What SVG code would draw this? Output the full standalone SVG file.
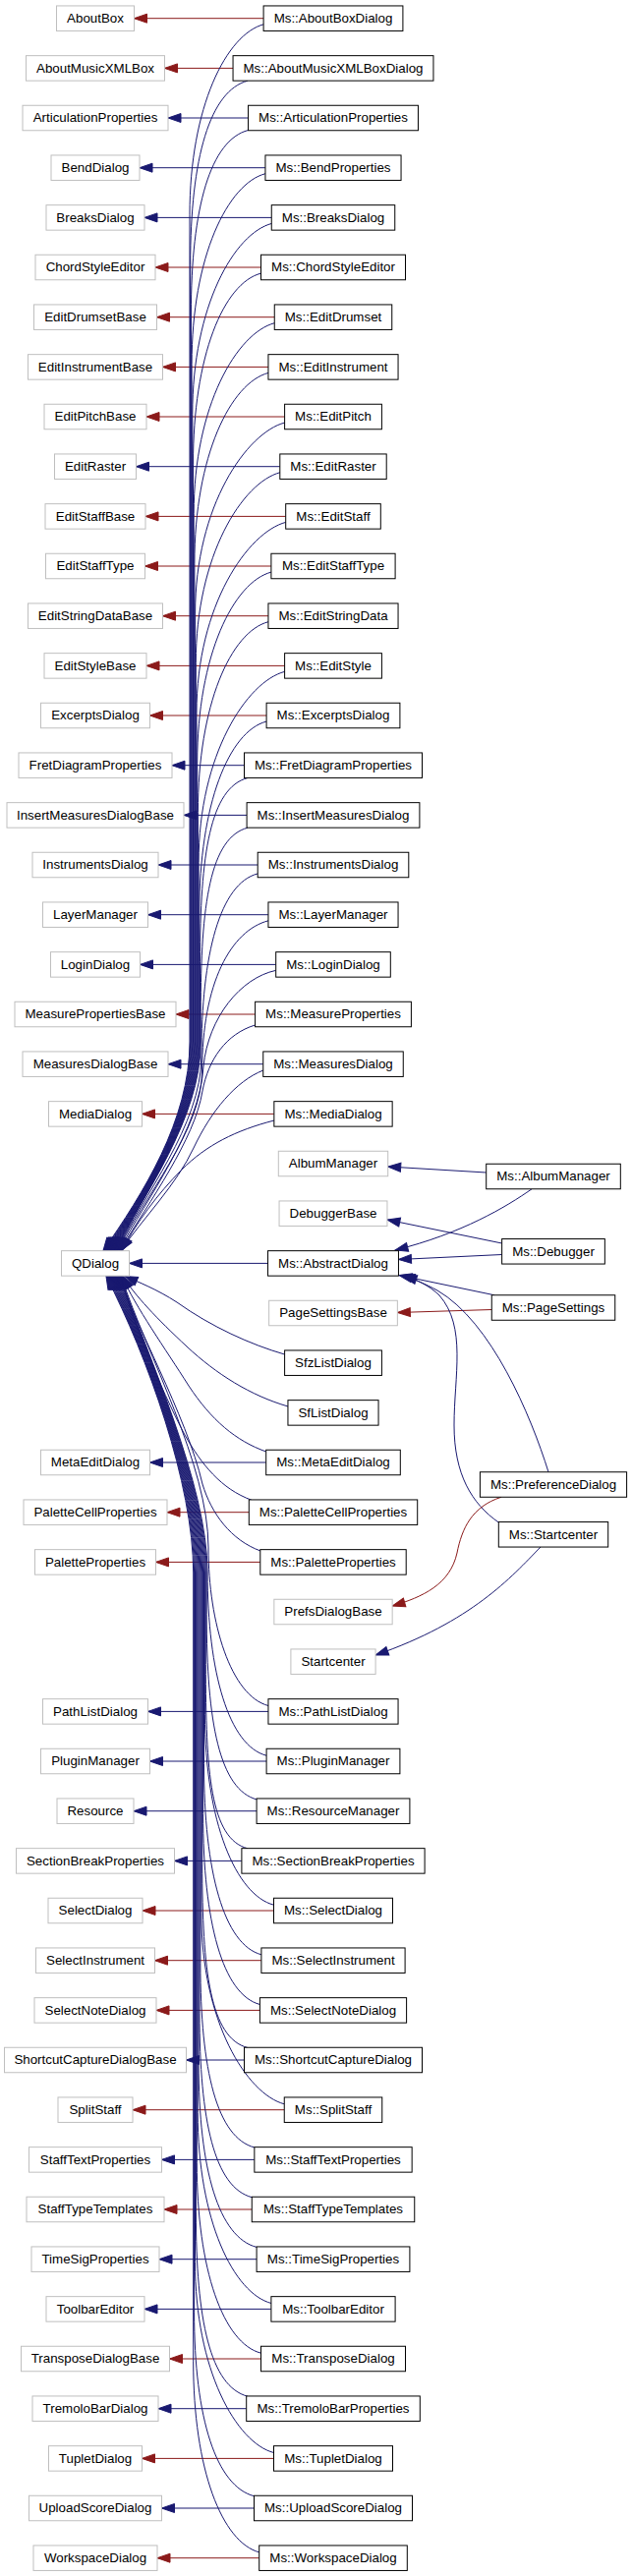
<svg xmlns="http://www.w3.org/2000/svg" width="643" height="2621" viewBox="0 0 643 2621">
<style>
.e{fill:none;stroke-width:1}
.b{stroke:#191970;marker-end:url(#ab)}
.r{stroke:#8b1a1a;marker-end:url(#ar)}
.nb rect{fill:#fff;stroke:#bfbfbf;stroke-width:1}
.nm rect{fill:#fff;stroke:#000;stroke-width:1}
text{font-family:"Liberation Sans",Arial,sans-serif;font-size:13.33px;text-anchor:middle;fill:#000}
</style>
<defs>
<marker id="ab" markerWidth="14" markerHeight="10" refX="13" refY="4.5" orient="auto" markerUnits="userSpaceOnUse" overflow="visible"><path d="M0,0 L13,4.5 L0,9 z" fill="#191970" stroke="#191970" stroke-width="1"/></marker>
<marker id="ar" markerWidth="14" markerHeight="10" refX="13" refY="4.5" orient="auto" markerUnits="userSpaceOnUse" overflow="visible"><path d="M0,0 L13,4.5 L0,9 z" fill="#8b1a1a" stroke="#8b1a1a" stroke-width="1"/></marker>
</defs>
<rect x="0" y="0" width="643" height="2621" fill="#fff"/>
<g id="connectors">
<path class="e r" d="M268.1,18.7 L136.5,18.7"/>
<path class="e r" d="M237.05,69.4 L167.5,69.4"/>
<path class="e b" d="M252.55,120 L171,120"/>
<path class="e b" d="M269.95,170.7 L142,170.7"/>
<path class="e b" d="M276.25,221.4 L147,221.4"/>
<path class="e r" d="M265.5,272 L158,272"/>
<path class="e r" d="M279.25,322.7 L159.5,322.7"/>
<path class="e r" d="M272.95,373.4 L165.5,373.4"/>
<path class="e r" d="M289.6,424 L149,424"/>
<path class="e b" d="M284.8,474.7 L138.5,474.7"/>
<path class="e r" d="M290.7,525.4 L148,525.4"/>
<path class="e r" d="M275.9,576 L147.5,576"/>
<path class="e r" d="M272.95,626.7 L165.5,626.7"/>
<path class="e r" d="M289.6,677.4 L149,677.4"/>
<path class="e r" d="M271.1,728 L152.5,728"/>
<path class="e b" d="M248.5,778.7 L175,778.7"/>
<path class="e b" d="M251.1,829.4 L187,829.4"/>
<path class="e b" d="M262.2,880 L161,880"/>
<path class="e b" d="M272.95,930.7 L150.5,930.7"/>
<path class="e b" d="M280.7,981.4 L142.5,981.4"/>
<path class="e r" d="M259.6,1032 L179,1032"/>
<path class="e b" d="M267.75,1082.7 L171,1082.7"/>
<path class="e r" d="M278.85,1133.4 L144.5,1133.4"/>
<path class="e b" d="M272.55,1285.4 L131.5,1285.4"/>
<path class="e b" d="M270.7,1488 L152.5,1488"/>
<path class="e r" d="M253.3,1538.7 L170,1538.7"/>
<path class="e r" d="M264.8,1589.4 L158.5,1589.4"/>
<path class="e b" d="M272.95,1741.4 L150.5,1741.4"/>
<path class="e b" d="M271.1,1792 L152.5,1792"/>
<path class="e b" d="M261.1,1842.7 L136,1842.7"/>
<path class="e b" d="M245.9,1893.4 L177.5,1893.4"/>
<path class="e r" d="M278.5,1944 L145,1944"/>
<path class="e r" d="M265.9,1994.7 L157.5,1994.7"/>
<path class="e r" d="M264.4,2045.4 L159,2045.4"/>
<path class="e b" d="M248.5,2096 L189.5,2096"/>
<path class="e r" d="M289.25,2146.7 L135,2146.7"/>
<path class="e b" d="M258.85,2197.4 L164.5,2197.4"/>
<path class="e r" d="M256.25,2248 L167,2248"/>
<path class="e b" d="M261.1,2298.7 L162,2298.7"/>
<path class="e b" d="M275.9,2349.4 L147,2349.4"/>
<path class="e r" d="M265.5,2400 L172.5,2400"/>
<path class="e b" d="M250.7,2450.7 L161,2450.7"/>
<path class="e r" d="M278.5,2501.4 L144.5,2501.4"/>
<path class="e b" d="M258.5,2552 L164.5,2552"/>
<path class="e r" d="M263.7,2602.7 L160,2602.7"/>
<path class="e b" d="M268.5,24.7 C230.5,34.7 193,108.7 193,218.7 L193,1060 C193,1140 145,1215 105,1272.5"/>
<path class="e b" d="M252,82.2 C214,92.2 193.7,159.4 193.7,269.4 L193.7,1060 C193.7,1140 145,1215 106,1272.5"/>
<path class="e b" d="M252.5,132.5 C214.5,142.5 194.4,210 194.4,320 L194.4,1060 C194.4,1140 145,1215 107,1272.5"/>
<path class="e b" d="M270,176.7 C232,186.7 195.1,260.7 195.1,370.7 L195.1,1060 C195.1,1140 145,1215 107.8,1272.5"/>
<path class="e b" d="M276.5,227.4 C238.5,237.4 195.8,311.4 195.8,421.4 L195.8,1060 C195.8,1140 145,1215 108.6,1272.5"/>
<path class="e b" d="M265.5,278.1 C227.5,288.1 196.5,362.1 196.5,472.1 L196.5,1060 C196.5,1140 145,1215 109.4,1272.5"/>
<path class="e b" d="M279.3,328.7 C241.3,338.7 197.2,412.7 197.2,522.7 L197.2,1060 C197.2,1140 145,1215 110.2,1272.5"/>
<path class="e b" d="M273,379.4 C235,389.4 197.9,463.4 197.9,573.4 L197.9,1060 C197.9,1140 145,1215 111,1272.5"/>
<path class="e b" d="M289.5,430.1 C251.5,440.1 198.6,514.1 198.6,624.1 L198.6,1060 C198.6,1140 145,1215 111.8,1272.5"/>
<path class="e b" d="M285,480.7 C247,490.7 199.3,564.7 199.3,674.7 L199.3,1060 C199.3,1140 145,1215 112.6,1272.5"/>
<path class="e b" d="M290.7,531.4 C252.7,541.4 200,615.4 200,725.4 L200,1060 C200,1140 145,1215 113.4,1272.5"/>
<path class="e b" d="M276,582.1 C238,592.1 200.7,666.1 200.7,776.1 L200.7,1060 C200.7,1140 145,1215 114.2,1272.5"/>
<path class="e b" d="M273,632.7 C235,642.7 201.4,716.7 201.4,826.7 L201.4,1060 C201.4,1140 145,1215 115,1272.5"/>
<path class="e b" d="M289.5,683.4 C251.5,693.4 202.1,767.4 202.1,877.4 L202.1,1060 C202.1,1140 145,1215 115.8,1272.5"/>
<path class="e b" d="M271,734.1 C233,744.1 202.8,818.1 202.8,928.1 L202.8,1060 C202.8,1140 145,1215 116.6,1272.5"/>
<path class="e b" d="M252,791.5 C214,801.5 203.5,868.8 203.5,978.8 L203.5,1060 C203.5,1140 145,1215 117.4,1272.5"/>
<path class="e b" d="M252,842.2 C214,852.2 204.2,919.4 204.2,1029.4 L204.2,1060 C204.2,1140 145,1215 118.2,1272.5"/>
<path class="e b" d="M262,889 C224,899 204.9,970.1 204.9,1075 C204.9,1145 145,1217 119,1272.5"/>
<path class="e b" d="M273,936.8 C235,946.8 205.6,1000 205.6,1090 C205.6,1150 145,1220 119.8,1272.5"/>
<path class="e b" d="M280.5,987.4 C245,995 212,1035 207,1085 C203,1150 150,1218 121,1272.5"/>
<path class="e b" d="M259.5,1043 C230,1052 212,1078 206,1110 C198,1160 152,1222 122,1272.5"/>
<path class="e b" d="M267.8,1089 C240,1100 215,1130 197,1168 C180,1205 145,1240 123,1272.5"/>
<path class="e b" d="M279,1140 C240,1150 210,1165 185,1190 C160,1215 138,1245 124,1272.5"/>
<path class="e b" d="M289.5,1378 C255,1368 215,1350 180,1325 C160,1312 140,1304 127,1298.5"/>
<path class="e b" d="M293,1431 C255,1420 220,1398 190,1370 C160,1342 137,1318 125,1298.5"/>
<path class="e b" d="M270.7,1477 C240,1466 215,1445 192,1410 C168,1372 138,1330 124,1298.5"/>
<path class="e b" d="M256,1526.3 C225,1515 205,1490 188,1460 C162,1410 133,1340 123,1298.5"/>
<path class="e b" d="M265,1578 C235,1567 215,1540 206,1510 C190,1440 133,1340 122,1298.5"/>
<path class="e b" d="M273,1735.5 C235,1725.5 212,1651.5 212,1575 C212,1490 150,1380 123.3,1298.5"/>
<path class="e b" d="M271,1786.2 C233,1776.2 211.1,1702.2 211.1,1600 C211.1,1510 150,1380 122.4,1298.5"/>
<path class="e b" d="M261.5,1831 C223.5,1821 210.2,1752.8 210.2,1642.8 L210.2,1600 C210.2,1510 150,1380 121.5,1298.5"/>
<path class="e b" d="M252,1880.8 C214,1870.8 209.3,1803.5 209.3,1693.5 L209.3,1600 C209.3,1510 150,1380 120.6,1298.5"/>
<path class="e b" d="M278.5,1938.2 C240.5,1928.2 208.4,1854.2 208.4,1744.2 L208.4,1600 C208.4,1510 150,1380 119.7,1298.5"/>
<path class="e b" d="M266,1988.8 C228,1978.8 207.5,1904.8 207.5,1794.8 L207.5,1600 C207.5,1510 150,1380 118.8,1298.5"/>
<path class="e b" d="M264.5,2039.5 C226.5,2029.5 206.6,1955.5 206.6,1845.5 L206.6,1600 C206.6,1510 150,1380 117.9,1298.5"/>
<path class="e b" d="M252,2083.5 C214,2073.5 205.7,2006.2 205.7,1896.2 L205.7,1600 C205.7,1510 150,1380 117,1298.5"/>
<path class="e b" d="M289.3,2140.8 C251.3,2130.8 204.8,2056.8 204.8,1946.8 L204.8,1600 C204.8,1510 150,1380 116.1,1298.5"/>
<path class="e b" d="M259,2185 C221,2175 203.9,2107.5 203.9,1997.5 L203.9,1600 C203.9,1510 150,1380 115.2,1298.5"/>
<path class="e b" d="M256.3,2235.7 C218.3,2225.7 203,2158.2 203,2048.2 L203,1600 C203,1510 150,1380 114.3,1298.5"/>
<path class="e b" d="M261,2286.4 C223,2276.4 202.1,2208.9 202.1,2098.9 L202.1,1600 C202.1,1510 150,1380 113.4,1298.5"/>
<path class="e b" d="M276,2343.5 C238,2333.5 201.2,2259.5 201.2,2149.5 L201.2,1600 C201.2,1510 150,1380 112.5,1298.5"/>
<path class="e b" d="M265.5,2394.2 C227.5,2384.2 200.3,2310.2 200.3,2200.2 L200.3,1600 C200.3,1510 150,1380 111.6,1298.5"/>
<path class="e b" d="M252,2438.2 C214,2428.2 199.4,2360.9 199.4,2250.9 L199.4,1600 C199.4,1510 150,1380 110.7,1298.5"/>
<path class="e b" d="M278.5,2495.5 C240.5,2485.5 198.5,2411.5 198.5,2301.5 L198.5,1600 C198.5,1510 150,1380 109.8,1298.5"/>
<path class="e b" d="M258.5,2539.7 C220.5,2529.7 197.6,2462.2 197.6,2352.2 L197.6,1600 C197.6,1510 150,1380 108.9,1298.5"/>
<path class="e b" d="M264,2596.9 C226,2586.9 196.7,2512.9 196.7,2402.9 L196.7,1600 C196.7,1510 150,1380 108,1298.5"/>
<path class="e b" d="M494.7,1193 L394.7,1187"/>
<path class="e b" d="M541,1209.8 C515,1228 470,1255 402,1272"/>
<path class="e b" d="M510.65,1265 L393.95,1241"/>
<path class="e b" d="M510.65,1276.5 L405.45,1281.5"/>
<path class="e b" d="M503,1317.75 L406,1297.5"/>
<path class="e r" d="M500.25,1332.5 L404.35,1335.5"/>
<path class="e b" d="M558,1497.75 C540,1440 500,1345 445,1313 C432,1306 420,1301 411,1298"/>
<path class="e b" d="M507.3,1549 C480,1530 462,1500 462,1450 C462,1400 475,1350 447,1318 C437,1308 422,1301 409,1297.5"/>
<path class="e r" d="M510,1523.25 C480,1533 470,1555 465,1580 C458,1612 430,1625 399.15,1634"/>
<path class="e b" d="M550,1574 C520,1605 480,1650 382.1,1684"/>
</g>
<g id="n_AboutBox" class="nb" transform="translate(97,18.7)"><rect x="-39.5" y="-12.75" width="79" height="25.5"/><text y="4.3">AboutBox</text></g>
<g id="n_AboutMusicXMLBox" class="nb" transform="translate(97,69.4)"><rect x="-70.5" y="-12.75" width="141" height="25.5"/><text y="4.3">AboutMusicXMLBox</text></g>
<g id="n_ArticulationProperties" class="nb" transform="translate(97,120)"><rect x="-74" y="-12.75" width="148" height="25.5"/><text y="4.3">ArticulationProperties</text></g>
<g id="n_BendDialog" class="nb" transform="translate(97,170.7)"><rect x="-45" y="-12.75" width="90" height="25.5"/><text y="4.3">BendDialog</text></g>
<g id="n_BreaksDialog" class="nb" transform="translate(97,221.4)"><rect x="-50" y="-12.75" width="100" height="25.5"/><text y="4.3">BreaksDialog</text></g>
<g id="n_ChordStyleEditor" class="nb" transform="translate(97,272)"><rect x="-61" y="-12.75" width="122" height="25.5"/><text y="4.3">ChordStyleEditor</text></g>
<g id="n_EditDrumsetBase" class="nb" transform="translate(97,322.7)"><rect x="-62.5" y="-12.75" width="125" height="25.5"/><text y="4.3">EditDrumsetBase</text></g>
<g id="n_EditInstrumentBase" class="nb" transform="translate(97,373.4)"><rect x="-68.5" y="-12.75" width="137" height="25.5"/><text y="4.3">EditInstrumentBase</text></g>
<g id="n_EditPitchBase" class="nb" transform="translate(97,424)"><rect x="-52" y="-12.75" width="104" height="25.5"/><text y="4.3">EditPitchBase</text></g>
<g id="n_EditRaster" class="nb" transform="translate(97,474.7)"><rect x="-41.5" y="-12.75" width="83" height="25.5"/><text y="4.3">EditRaster</text></g>
<g id="n_EditStaffBase" class="nb" transform="translate(97,525.4)"><rect x="-51" y="-12.75" width="102" height="25.5"/><text y="4.3">EditStaffBase</text></g>
<g id="n_EditStaffType" class="nb" transform="translate(97,576)"><rect x="-50.5" y="-12.75" width="101" height="25.5"/><text y="4.3">EditStaffType</text></g>
<g id="n_EditStringDataBase" class="nb" transform="translate(97,626.7)"><rect x="-68.5" y="-12.75" width="137" height="25.5"/><text y="4.3">EditStringDataBase</text></g>
<g id="n_EditStyleBase" class="nb" transform="translate(97,677.4)"><rect x="-52" y="-12.75" width="104" height="25.5"/><text y="4.3">EditStyleBase</text></g>
<g id="n_ExcerptsDialog" class="nb" transform="translate(97,728)"><rect x="-55.5" y="-12.75" width="111" height="25.5"/><text y="4.3">ExcerptsDialog</text></g>
<g id="n_FretDiagramProperties" class="nb" transform="translate(97,778.7)"><rect x="-78" y="-12.75" width="156" height="25.5"/><text y="4.3">FretDiagramProperties</text></g>
<g id="n_InsertMeasuresDialogBase" class="nb" transform="translate(97,829.4)"><rect x="-90" y="-12.75" width="180" height="25.5"/><text y="4.3">InsertMeasuresDialogBase</text></g>
<g id="n_InstrumentsDialog" class="nb" transform="translate(97,880)"><rect x="-64" y="-12.75" width="128" height="25.5"/><text y="4.3">InstrumentsDialog</text></g>
<g id="n_LayerManager" class="nb" transform="translate(97,930.7)"><rect x="-53.5" y="-12.75" width="107" height="25.5"/><text y="4.3">LayerManager</text></g>
<g id="n_LoginDialog" class="nb" transform="translate(97,981.4)"><rect x="-45.5" y="-12.75" width="91" height="25.5"/><text y="4.3">LoginDialog</text></g>
<g id="n_MeasurePropertiesBase" class="nb" transform="translate(97,1032)"><rect x="-82" y="-12.75" width="164" height="25.5"/><text y="4.3">MeasurePropertiesBase</text></g>
<g id="n_MeasuresDialogBase" class="nb" transform="translate(97,1082.7)"><rect x="-74" y="-12.75" width="148" height="25.5"/><text y="4.3">MeasuresDialogBase</text></g>
<g id="n_MediaDialog" class="nb" transform="translate(97,1133.4)"><rect x="-47.5" y="-12.75" width="95" height="25.5"/><text y="4.3">MediaDialog</text></g>
<g id="n_QDialog" class="nb" transform="translate(97,1285.4)"><rect x="-34.5" y="-12.75" width="69" height="25.5"/><text y="4.3">QDialog</text></g>
<g id="n_MetaEditDialog" class="nb" transform="translate(97,1488)"><rect x="-55.5" y="-12.75" width="111" height="25.5"/><text y="4.3">MetaEditDialog</text></g>
<g id="n_PaletteCellProperties" class="nb" transform="translate(97,1538.7)"><rect x="-73" y="-12.75" width="146" height="25.5"/><text y="4.3">PaletteCellProperties</text></g>
<g id="n_PaletteProperties" class="nb" transform="translate(97,1589.4)"><rect x="-61.5" y="-12.75" width="123" height="25.5"/><text y="4.3">PaletteProperties</text></g>
<g id="n_PathListDialog" class="nb" transform="translate(97,1741.4)"><rect x="-53.5" y="-12.75" width="107" height="25.5"/><text y="4.3">PathListDialog</text></g>
<g id="n_PluginManager" class="nb" transform="translate(97,1792)"><rect x="-55.5" y="-12.75" width="111" height="25.5"/><text y="4.3">PluginManager</text></g>
<g id="n_Resource" class="nb" transform="translate(97,1842.7)"><rect x="-39" y="-12.75" width="78" height="25.5"/><text y="4.3">Resource</text></g>
<g id="n_SectionBreakProperties" class="nb" transform="translate(97,1893.4)"><rect x="-80.5" y="-12.75" width="161" height="25.5"/><text y="4.3">SectionBreakProperties</text></g>
<g id="n_SelectDialog" class="nb" transform="translate(97,1944)"><rect x="-48" y="-12.75" width="96" height="25.5"/><text y="4.3">SelectDialog</text></g>
<g id="n_SelectInstrument" class="nb" transform="translate(97,1994.7)"><rect x="-60.5" y="-12.75" width="121" height="25.5"/><text y="4.3">SelectInstrument</text></g>
<g id="n_SelectNoteDialog" class="nb" transform="translate(97,2045.4)"><rect x="-62" y="-12.75" width="124" height="25.5"/><text y="4.3">SelectNoteDialog</text></g>
<g id="n_ShortcutCaptureDialogBase" class="nb" transform="translate(97,2096)"><rect x="-92.5" y="-12.75" width="185" height="25.5"/><text y="4.3">ShortcutCaptureDialogBase</text></g>
<g id="n_SplitStaff" class="nb" transform="translate(97,2146.7)"><rect x="-38" y="-12.75" width="76" height="25.5"/><text y="4.3">SplitStaff</text></g>
<g id="n_StaffTextProperties" class="nb" transform="translate(97,2197.4)"><rect x="-67.5" y="-12.75" width="135" height="25.5"/><text y="4.3">StaffTextProperties</text></g>
<g id="n_StaffTypeTemplates" class="nb" transform="translate(97,2248)"><rect x="-70" y="-12.75" width="140" height="25.5"/><text y="4.3">StaffTypeTemplates</text></g>
<g id="n_TimeSigProperties" class="nb" transform="translate(97,2298.7)"><rect x="-65" y="-12.75" width="130" height="25.5"/><text y="4.3">TimeSigProperties</text></g>
<g id="n_ToolbarEditor" class="nb" transform="translate(97,2349.4)"><rect x="-50" y="-12.75" width="100" height="25.5"/><text y="4.3">ToolbarEditor</text></g>
<g id="n_TransposeDialogBase" class="nb" transform="translate(97,2400)"><rect x="-75.5" y="-12.75" width="151" height="25.5"/><text y="4.3">TransposeDialogBase</text></g>
<g id="n_TremoloBarDialog" class="nb" transform="translate(97,2450.7)"><rect x="-64" y="-12.75" width="128" height="25.5"/><text y="4.3">TremoloBarDialog</text></g>
<g id="n_TupletDialog" class="nb" transform="translate(97,2501.4)"><rect x="-47.5" y="-12.75" width="95" height="25.5"/><text y="4.3">TupletDialog</text></g>
<g id="n_UploadScoreDialog" class="nb" transform="translate(97,2552)"><rect x="-67.5" y="-12.75" width="135" height="25.5"/><text y="4.3">UploadScoreDialog</text></g>
<g id="n_WorkspaceDialog" class="nb" transform="translate(97,2602.7)"><rect x="-63" y="-12.75" width="126" height="25.5"/><text y="4.3">WorkspaceDialog</text></g>
<g id="n_Ms_AboutBoxDialog" class="nm" transform="translate(339,18.7)"><rect x="-70.9" y="-12.75" width="141.8" height="25.5"/><text y="4.3">Ms::AboutBoxDialog</text></g>
<g id="n_Ms_AboutMusicXMLBoxDialog" class="nm" transform="translate(339,69.4)"><rect x="-101.95" y="-12.75" width="203.9" height="25.5"/><text y="4.3">Ms::AboutMusicXMLBoxDialog</text></g>
<g id="n_Ms_ArticulationProperties" class="nm" transform="translate(339,120)"><rect x="-86.45" y="-12.75" width="172.9" height="25.5"/><text y="4.3">Ms::ArticulationProperties</text></g>
<g id="n_Ms_BendProperties" class="nm" transform="translate(339,170.7)"><rect x="-69.05" y="-12.75" width="138.1" height="25.5"/><text y="4.3">Ms::BendProperties</text></g>
<g id="n_Ms_BreaksDialog" class="nm" transform="translate(339,221.4)"><rect x="-62.75" y="-12.75" width="125.5" height="25.5"/><text y="4.3">Ms::BreaksDialog</text></g>
<g id="n_Ms_ChordStyleEditor" class="nm" transform="translate(339,272)"><rect x="-73.5" y="-12.75" width="147" height="25.5"/><text y="4.3">Ms::ChordStyleEditor</text></g>
<g id="n_Ms_EditDrumset" class="nm" transform="translate(339,322.7)"><rect x="-59.75" y="-12.75" width="119.5" height="25.5"/><text y="4.3">Ms::EditDrumset</text></g>
<g id="n_Ms_EditInstrument" class="nm" transform="translate(339,373.4)"><rect x="-66.05" y="-12.75" width="132.1" height="25.5"/><text y="4.3">Ms::EditInstrument</text></g>
<g id="n_Ms_EditPitch" class="nm" transform="translate(339,424)"><rect x="-49.4" y="-12.75" width="98.8" height="25.5"/><text y="4.3">Ms::EditPitch</text></g>
<g id="n_Ms_EditRaster" class="nm" transform="translate(339,474.7)"><rect x="-54.2" y="-12.75" width="108.4" height="25.5"/><text y="4.3">Ms::EditRaster</text></g>
<g id="n_Ms_EditStaff" class="nm" transform="translate(339,525.4)"><rect x="-48.3" y="-12.75" width="96.6" height="25.5"/><text y="4.3">Ms::EditStaff</text></g>
<g id="n_Ms_EditStaffType" class="nm" transform="translate(339,576)"><rect x="-63.1" y="-12.75" width="126.2" height="25.5"/><text y="4.3">Ms::EditStaffType</text></g>
<g id="n_Ms_EditStringData" class="nm" transform="translate(339,626.7)"><rect x="-66.05" y="-12.75" width="132.1" height="25.5"/><text y="4.3">Ms::EditStringData</text></g>
<g id="n_Ms_EditStyle" class="nm" transform="translate(339,677.4)"><rect x="-49.4" y="-12.75" width="98.8" height="25.5"/><text y="4.3">Ms::EditStyle</text></g>
<g id="n_Ms_ExcerptsDialog" class="nm" transform="translate(339,728)"><rect x="-67.9" y="-12.75" width="135.8" height="25.5"/><text y="4.3">Ms::ExcerptsDialog</text></g>
<g id="n_Ms_FretDiagramProperties" class="nm" transform="translate(339,778.7)"><rect x="-90.5" y="-12.75" width="181" height="25.5"/><text y="4.3">Ms::FretDiagramProperties</text></g>
<g id="n_Ms_InsertMeasuresDialog" class="nm" transform="translate(339,829.4)"><rect x="-87.9" y="-12.75" width="175.8" height="25.5"/><text y="4.3">Ms::InsertMeasuresDialog</text></g>
<g id="n_Ms_InstrumentsDialog" class="nm" transform="translate(339,880)"><rect x="-76.8" y="-12.75" width="153.6" height="25.5"/><text y="4.3">Ms::InstrumentsDialog</text></g>
<g id="n_Ms_LayerManager" class="nm" transform="translate(339,930.7)"><rect x="-66.05" y="-12.75" width="132.1" height="25.5"/><text y="4.3">Ms::LayerManager</text></g>
<g id="n_Ms_LoginDialog" class="nm" transform="translate(339,981.4)"><rect x="-58.3" y="-12.75" width="116.6" height="25.5"/><text y="4.3">Ms::LoginDialog</text></g>
<g id="n_Ms_MeasureProperties" class="nm" transform="translate(339,1032)"><rect x="-79.4" y="-12.75" width="158.8" height="25.5"/><text y="4.3">Ms::MeasureProperties</text></g>
<g id="n_Ms_MeasuresDialog" class="nm" transform="translate(339,1082.7)"><rect x="-71.25" y="-12.75" width="142.5" height="25.5"/><text y="4.3">Ms::MeasuresDialog</text></g>
<g id="n_Ms_MediaDialog" class="nm" transform="translate(339,1133.4)"><rect x="-60.15" y="-12.75" width="120.3" height="25.5"/><text y="4.3">Ms::MediaDialog</text></g>
<g id="n_AlbumManager" class="nb" transform="translate(339,1184)"><rect x="-55.7" y="-12.75" width="111.4" height="25.5"/><text y="4.3">AlbumManager</text></g>
<g id="n_DebuggerBase" class="nb" transform="translate(339,1234.7)"><rect x="-54.95" y="-12.75" width="109.9" height="25.5"/><text y="4.3">DebuggerBase</text></g>
<g id="n_Ms_AbstractDialog" class="nm" transform="translate(339,1285.4)"><rect x="-66.45" y="-12.75" width="132.9" height="25.5"/><text y="4.3">Ms::AbstractDialog</text></g>
<g id="n_PageSettingsBase" class="nb" transform="translate(339,1336)"><rect x="-65.35" y="-12.75" width="130.7" height="25.5"/><text y="4.3">PageSettingsBase</text></g>
<g id="n_SfzListDialog" class="nm" transform="translate(339,1386.7)"><rect x="-49.4" y="-12.75" width="98.8" height="25.5"/><text y="4.3">SfzListDialog</text></g>
<g id="n_SfListDialog" class="nm" transform="translate(339,1437.4)"><rect x="-46.05" y="-12.75" width="92.1" height="25.5"/><text y="4.3">SfListDialog</text></g>
<g id="n_Ms_MetaEditDialog" class="nm" transform="translate(339,1488)"><rect x="-68.3" y="-12.75" width="136.6" height="25.5"/><text y="4.3">Ms::MetaEditDialog</text></g>
<g id="n_Ms_PaletteCellProperties" class="nm" transform="translate(339,1538.7)"><rect x="-85.7" y="-12.75" width="171.4" height="25.5"/><text y="4.3">Ms::PaletteCellProperties</text></g>
<g id="n_Ms_PaletteProperties" class="nm" transform="translate(339,1589.4)"><rect x="-74.2" y="-12.75" width="148.4" height="25.5"/><text y="4.3">Ms::PaletteProperties</text></g>
<g id="n_PrefsDialogBase" class="nb" transform="translate(339,1640)"><rect x="-60.15" y="-12.75" width="120.3" height="25.5"/><text y="4.3">PrefsDialogBase</text></g>
<g id="n_Startcenter" class="nb" transform="translate(339,1690.7)"><rect x="-43.1" y="-12.75" width="86.2" height="25.5"/><text y="4.3">Startcenter</text></g>
<g id="n_Ms_PathListDialog" class="nm" transform="translate(339,1741.4)"><rect x="-66.05" y="-12.75" width="132.1" height="25.5"/><text y="4.3">Ms::PathListDialog</text></g>
<g id="n_Ms_PluginManager" class="nm" transform="translate(339,1792)"><rect x="-67.9" y="-12.75" width="135.8" height="25.5"/><text y="4.3">Ms::PluginManager</text></g>
<g id="n_Ms_ResourceManager" class="nm" transform="translate(339,1842.7)"><rect x="-77.9" y="-12.75" width="155.8" height="25.5"/><text y="4.3">Ms::ResourceManager</text></g>
<g id="n_Ms_SectionBreakProperties" class="nm" transform="translate(339,1893.4)"><rect x="-93.1" y="-12.75" width="186.2" height="25.5"/><text y="4.3">Ms::SectionBreakProperties</text></g>
<g id="n_Ms_SelectDialog" class="nm" transform="translate(339,1944)"><rect x="-60.5" y="-12.75" width="121" height="25.5"/><text y="4.3">Ms::SelectDialog</text></g>
<g id="n_Ms_SelectInstrument" class="nm" transform="translate(339,1994.7)"><rect x="-73.1" y="-12.75" width="146.2" height="25.5"/><text y="4.3">Ms::SelectInstrument</text></g>
<g id="n_Ms_SelectNoteDialog" class="nm" transform="translate(339,2045.4)"><rect x="-74.6" y="-12.75" width="149.2" height="25.5"/><text y="4.3">Ms::SelectNoteDialog</text></g>
<g id="n_Ms_ShortcutCaptureDialog" class="nm" transform="translate(339,2096)"><rect x="-90.5" y="-12.75" width="181" height="25.5"/><text y="4.3">Ms::ShortcutCaptureDialog</text></g>
<g id="n_Ms_SplitStaff" class="nm" transform="translate(339,2146.7)"><rect x="-49.75" y="-12.75" width="99.5" height="25.5"/><text y="4.3">Ms::SplitStaff</text></g>
<g id="n_Ms_StaffTextProperties" class="nm" transform="translate(339,2197.4)"><rect x="-80.15" y="-12.75" width="160.3" height="25.5"/><text y="4.3">Ms::StaffTextProperties</text></g>
<g id="n_Ms_StaffTypeTemplates" class="nm" transform="translate(339,2248)"><rect x="-82.75" y="-12.75" width="165.5" height="25.5"/><text y="4.3">Ms::StaffTypeTemplates</text></g>
<g id="n_Ms_TimeSigProperties" class="nm" transform="translate(339,2298.7)"><rect x="-77.9" y="-12.75" width="155.8" height="25.5"/><text y="4.3">Ms::TimeSigProperties</text></g>
<g id="n_Ms_ToolbarEditor" class="nm" transform="translate(339,2349.4)"><rect x="-63.1" y="-12.75" width="126.2" height="25.5"/><text y="4.3">Ms::ToolbarEditor</text></g>
<g id="n_Ms_TransposeDialog" class="nm" transform="translate(339,2400)"><rect x="-73.5" y="-12.75" width="147" height="25.5"/><text y="4.3">Ms::TransposeDialog</text></g>
<g id="n_Ms_TremoloBarProperties" class="nm" transform="translate(339,2450.7)"><rect x="-88.3" y="-12.75" width="176.6" height="25.5"/><text y="4.3">Ms::TremoloBarProperties</text></g>
<g id="n_Ms_TupletDialog" class="nm" transform="translate(339,2501.4)"><rect x="-60.5" y="-12.75" width="121" height="25.5"/><text y="4.3">Ms::TupletDialog</text></g>
<g id="n_Ms_UploadScoreDialog" class="nm" transform="translate(339,2552)"><rect x="-80.5" y="-12.75" width="161" height="25.5"/><text y="4.3">Ms::UploadScoreDialog</text></g>
<g id="n_Ms_WorkspaceDialog" class="nm" transform="translate(339,2602.7)"><rect x="-75.3" y="-12.75" width="150.6" height="25.5"/><text y="4.3">Ms::WorkspaceDialog</text></g>
<g id="n_Ms_AlbumManager" class="nm" transform="translate(563,1197)"><rect x="-68.3" y="-12.75" width="136.6" height="25.5"/><text y="4.3">Ms::AlbumManager</text></g>
<g id="n_Ms_Debugger" class="nm" transform="translate(563,1273.3)"><rect x="-52.35" y="-12.75" width="104.7" height="25.5"/><text y="4.3">Ms::Debugger</text></g>
<g id="n_Ms_PageSettings" class="nm" transform="translate(563,1330.5)"><rect x="-62.75" y="-12.75" width="125.5" height="25.5"/><text y="4.3">Ms::PageSettings</text></g>
<g id="n_Ms_PreferenceDialog" class="nm" transform="translate(563,1510.5)"><rect x="-74.6" y="-12.75" width="149.2" height="25.5"/><text y="4.3">Ms::PreferenceDialog</text></g>
<g id="n_Ms_Startcenter" class="nm" transform="translate(563,1561.3)"><rect x="-55.7" y="-12.75" width="111.4" height="25.5"/><text y="4.3">Ms::Startcenter</text></g>
</svg>
